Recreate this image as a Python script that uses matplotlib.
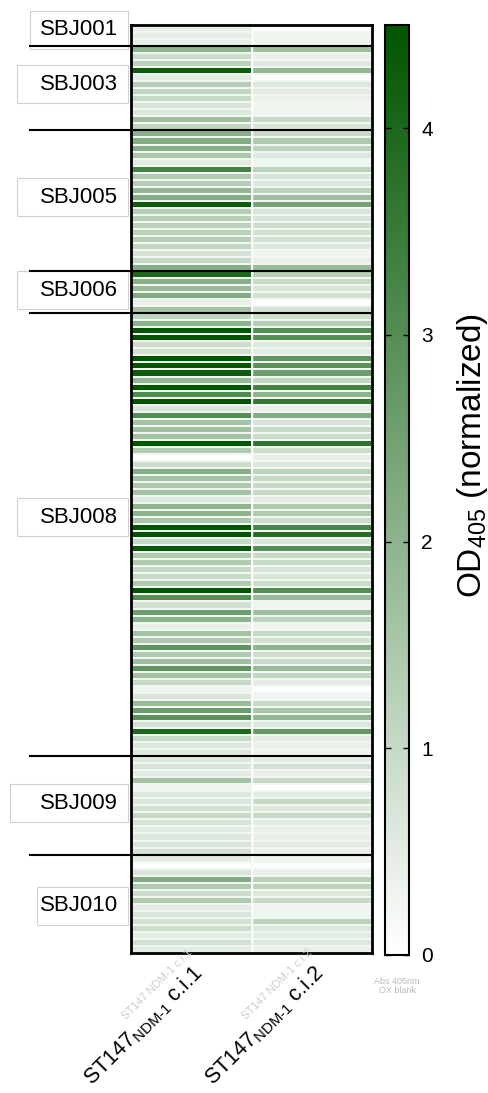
import numpy as np
import matplotlib
matplotlib.use("Agg")
import matplotlib.pyplot as plt
from matplotlib.colors import LinearSegmentedColormap
from matplotlib.patches import Rectangle
from matplotlib.transforms import blended_transform_factory

plt.rcParams["font.family"] = ["Liberation Sans", "DejaVu Sans"]
plt.rcParams["mathtext.fontset"] = "custom"
plt.rcParams["mathtext.rm"] = "Liberation Sans"

# ---- data ----
groups = ["SBJ001", "SBJ003", "SBJ005", "SBJ006", "SBJ008", "SBJ009", "SBJ010"]
group_sizes = [3, 12, 20, 6, 63, 14, 14]
columns = ["ST147$_{\\mathregular{NDM\\text{-}1}}$ c.i.1",
           "ST147$_{\\mathregular{NDM\\text{-}1}}$ c.i.2"]

ci1 = [
    # SBJ001
    0.45, 0.45, 0.4,
    # SBJ003
    2.0, 0.9, 1.2, 4.3, 0.5, 1.3, 1.1, 1.0, 0.7, 0.6, 1.7, 1.1,
    # SBJ005
    2.1, 2.2, 2.1, 1.5, 0.5, 3.3, 1.4, 1.3, 1.9, 2.2, 4.3, 1.3, 1.3, 1.2, 1.2,
    1.3, 1.1, 0.8, 1.0, 2.1,
    # SBJ006
    4.0, 2.1, 1.8, 2.2, 0.4, 1.6,
    # SBJ008
    1.1, 2.0, 4.5, 4.6, 0.9, 0.8, 4.6, 4.5, 4.3, 1.9, 4.6, 3.1, 4.6, 0.7, 3.0,
    1.6, 1.7, 1.6, 4.6, 1.4, 0.0, 0.9, 2.1, 1.6, 1.4, 1.6, 0.6, 2.0, 2.0, 1.5,
    4.6, 4.6, 1.0, 4.4, 1.4, 1.4, 1.0, 1.0, 1.4, 4.5, 3.0, 0.8, 2.6, 2.0, 0.4,
    1.6, 1.4, 2.8, 1.4, 1.7, 2.8, 1.6, 1.0, 0.3, 0.7, 1.8, 2.6, 2.9, 0.8, 4.0,
    1.0, 0.6, 0.6,
    # SBJ009
    0.6, 0.7, 0.5, 1.6, 0.3, 0.6, 0.6, 0.8, 1.0, 0.7, 0.5, 0.6, 0.7, 0.8,
    # SBJ010
    0.5, 0.05, 0.7, 2.2, 1.4, 0.9, 1.4, 0.5, 0.7, 0.8, 0.9, 0.5, 0.8, 0.5,
]

ci2 = [
    # SBJ001
    0.05, 0.3, 0.3,
    # SBJ003
    1.7, 0.4, 0.6, 1.9, 0.0, 0.6, 0.5, 0.4, 0.3, 0.3, 1.0, 0.7,
    # SBJ005
    1.0, 1.4, 1.2, 0.6, 0.3, 1.2, 0.7, 0.6, 1.2, 1.7, 2.4, 0.7, 0.7, 0.9, 0.8,
    0.8, 0.6, 0.3, 0.4, 1.8,
    # SBJ006
    1.3, 1.0, 0.7, 0.8, 0.0, 0.8,
    # SBJ008
    0.9, 1.3, 3.0, 3.0, 0.6, 0.5, 2.8, 2.9, 2.6, 1.1, 3.3, 2.0, 3.6, 0.4, 2.2,
    0.7, 1.0, 0.9, 3.7, 0.9, 0.45, 0.6, 1.2, 1.0, 1.0, 1.0, 0.5, 1.4, 1.4, 0.9,
    3.2, 3.8, 0.7, 3.0, 1.0, 1.0, 0.7, 0.7, 0.9, 3.0, 1.8, 0.3, 1.7, 1.2, 0.3,
    1.0, 0.8, 2.0, 0.9, 1.0, 1.8, 1.1, 0.5, 0.0, 0.3, 1.0, 1.5, 1.9, 0.6, 2.7,
    0.5, 0.4, 0.3,
    # SBJ009
    0.5, 0.8, 0.4, 1.0, 0.0, 0.5, 1.0, 0.6, 1.0, 0.5, 0.4, 0.4, 0.5, 0.4,
    # SBJ010
    0.3, 0.0, 0.4, 1.2, 1.2, 0.6, 1.0, 0.3, 0.3, 1.2, 0.6, 0.5, 0.6, 0.4,
]

cbar_ticks = [0, 1, 2, 3, 4]
vmax = 4.5

# ---- layout ----
W, H = 488, 1093
label_shift = [-0.8, -0.6, -0.5, -0.3, -2.5, -0.3, 0.3]   # rows
box_left_px = [30, 17, 17, 17, 17, 10, 37]

values = np.column_stack([ci1, ci2])
n_rows = values.shape[0]

fig = plt.figure(figsize=(W / 100, H / 100), dpi=100)
ax = fig.add_axes([131 / W, 1 - 953 / H, 241 / W, 928 / H])
cax = fig.add_axes([385 / W, 1 - 955 / H, 24 / W, 930 / H])

cmap = LinearSegmentedColormap.from_list("wg", ["#ffffff", "#005500"])
mesh = ax.pcolormesh(np.arange(3), np.arange(n_rows + 1), values, cmap=cmap,
                     vmin=0, vmax=vmax, edgecolors="#f2f6f2", linewidth=0.18)
ax.set_xlim(0, 2)
ax.set_ylim(n_rows, 0)
ax.axvline(1, color="white", lw=1.0)
ax.set_yticks([])
ax.set_xticks([0.5, 1.5])
ax.set_xticklabels(columns, rotation=45, ha="right", rotation_mode="anchor",
                   fontsize=15.5)
ax.tick_params(axis="x", length=0, pad=6)
for s in ax.spines.values():
    s.set_linewidth(2)

# group separators and labels
trans = blended_transform_factory(fig.transFigure, ax.transData)
edges = np.cumsum([0] + group_sizes)
for b in edges[1:-1]:
    ax.plot([30 / W, 370 / W], [b, b], color="black", lw=1.5,
            transform=trans, clip_on=False, zorder=5)

for name, start, size, shift, left in zip(groups, edges[:-1], group_sizes,
                                          label_shift, box_left_px):
    yc = start + size / 2 + shift
    ax.add_patch(Rectangle((left / W, yc - 2.7), (128 - left) / W, 5.4,
                           transform=trans, clip_on=False, facecolor="white",
                           edgecolor="#d0d0d0", lw=0.8, zorder=4))
    ax.text(118 / W, yc, name, transform=trans, ha="right", va="center",
            fontsize=16, zorder=6)

# colorbar
cb = fig.colorbar(mesh, cax=cax, ticks=cbar_ticks)
cb.outline.set_linewidth(1.5)
cax.tick_params(direction="in", length=4, width=1, left=True, right=True,
                labelsize=15, pad=9)
fig.text(472 / W, 1 - 455 / H, "OD$_{\\mathregular{405}}$ (normalized)",
         rotation=90, ha="center", va="center", fontsize=24)

# faint leftover labels from the original panel
for x, txt in [(157, "ST147 NDM-1 c.i.1"), (277, "ST147 NDM-1 c.i.2")]:
    fig.text(x / W, 1 - 985 / H, txt, rotation=45, ha="center", va="center",
             fontsize=8, color="#cccccc")
fig.text(397 / W, 1 - 986 / H, "Abs 405nm\nOX blank", ha="center", va="center",
         fontsize=6.5, color="#bbbbbb", linespacing=1.1)

fig.savefig("out.png", dpi=100)
